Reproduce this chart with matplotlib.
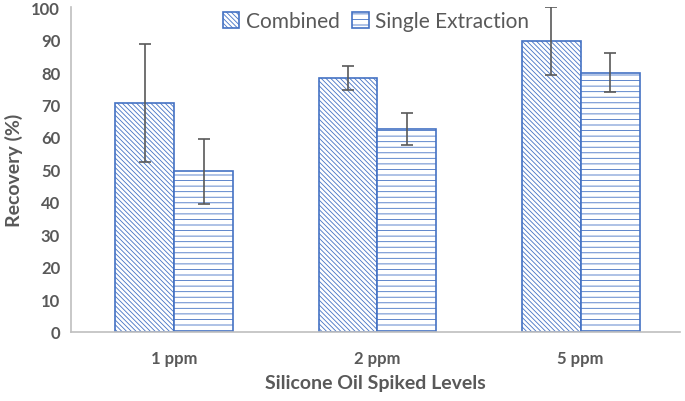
import numpy as np
import matplotlib.pyplot as plt

levels = ["1 ppm", "2 ppm", "5 ppm"]
combined = [70.5, 78.2, 89.5]
combined_err = [18.2, 3.7, 10.5]
single = [49.4, 62.5, 79.8]
single_err = [10.0, 5.0, 6.0]

blue = "#4472C4"
grey = "#595959"

plt.rcParams["font.family"] = ["Lato", "DejaVu Sans"]
plt.rcParams["hatch.linewidth"] = 0.6

fig = plt.figure(figsize=(6.85, 4.02), dpi=100)
ax = fig.add_axes([0.104, 0.172, 0.889, 0.808])

x = np.arange(len(levels))
w = 0.29
ax.bar(x - w / 2, combined, w, color="white", edgecolor=blue, hatch="\\\\\\\\\\\\\\",
       linewidth=1.2, label="Combined")
ax.bar(x + w / 2, single, w, color="white", edgecolor=blue, hatch="---",
       linewidth=1.2, label="Single Extraction")
ax.errorbar(x - w / 2, combined, yerr=combined_err, fmt="none", ecolor=grey,
            elinewidth=1.2, capsize=4, capthick=1.2)
ax.errorbar(x + w / 2, single, yerr=single_err, fmt="none", ecolor=grey,
            elinewidth=1.2, capsize=4, capthick=1.2)

ax.set_xlim(-0.507, 2.49)
ax.set_ylim(0, 100)
ax.set_yticks(range(0, 101, 10))
ax.set_xticks(x)
ax.set_xticklabels(levels)
ax.tick_params(length=0, colors=grey, labelsize=12, pad=8)
for lab in ax.get_xticklabels() + ax.get_yticklabels():
    lab.set_fontweight("bold")
ax.tick_params(axis="x", pad=13)

for s in ["top", "right"]:
    ax.spines[s].set_visible(False)
for s in ["left", "bottom"]:
    ax.spines[s].set_color("#BFBFBF")
    ax.spines[s].set_linewidth(1.2)

ax.set_ylabel("Recovery (%)", fontsize=14, fontweight="bold", color=grey,
              labelpad=6)
ax.set_xlabel("Silicone Oil Spiked Levels", fontsize=14, fontweight="bold",
              color=grey, labelpad=6)

leg = ax.legend(loc="upper center", bbox_to_anchor=(0.5, 1.045), ncol=2,
                frameon=False, fontsize=15, handlelength=0.8, handleheight=0.8,
                columnspacing=0.6, handletextpad=0.3)
for t in leg.get_texts():
    t.set_color(grey)

fig.savefig("out.png", dpi=100)
